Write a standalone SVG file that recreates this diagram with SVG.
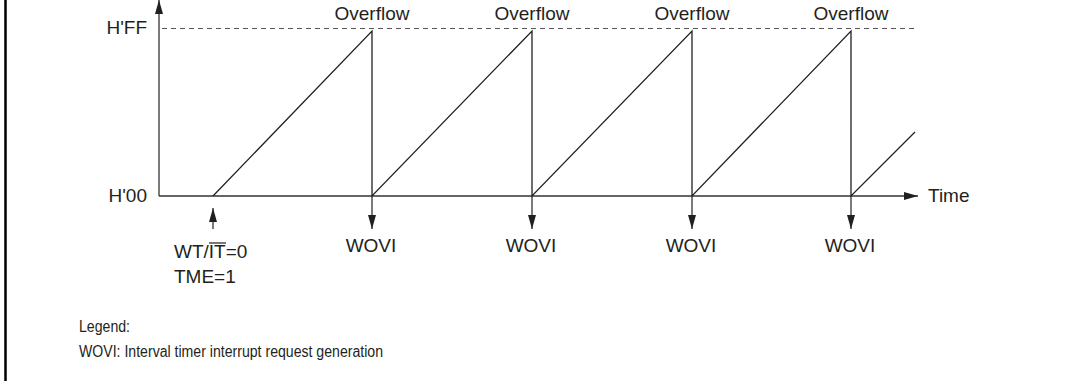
<svg xmlns="http://www.w3.org/2000/svg" width="1066" height="381" viewBox="0 0 1066 381">
<style>
text{font-family:"Liberation Sans",Arial,sans-serif;fill:#231f20}
.lbl{font-size:19px}
.leg{font-size:16px}
.axis{stroke:#333;stroke-width:1.3;fill:none}
.ramp{stroke:#231f20;stroke-width:1.3;fill:none}
.dash{stroke:#555;stroke-width:1;stroke-dasharray:5 4;fill:none}
</style>
<defs>
<marker id="ah" viewBox="0 0 14 8" refX="14" refY="4" markerWidth="14" markerHeight="8" markerUnits="userSpaceOnUse" orient="auto">
<path d="M0,0 L14,4 L0,8 Z" fill="#231f20"/>
</marker>
</defs>
<rect width="1066" height="381" fill="#fff"/>
<line x1="5.5" y1="0" x2="5.5" y2="381" stroke="#000" stroke-width="2.5"/>
<g id="connectors">
<line class="axis" x1="159" y1="196" x2="159" y2="0" marker-end="url(#ah)"/>
<line class="axis" x1="159" y1="196" x2="918" y2="196" marker-end="url(#ah)"/>
<line class="dash" x1="162" y1="28.5" x2="914" y2="28.5"/>
<polyline class="ramp" points="213,196 372,31 372,196 532,31 532,196 692,31 692,196 851,31 851,196 915,132"/>
<line class="axis" x1="213" y1="229" x2="213" y2="208" marker-end="url(#ah)"/>
<line class="axis" x1="372" y1="196" x2="372" y2="229" marker-end="url(#ah)"/>
<line class="axis" x1="532" y1="196" x2="532" y2="229" marker-end="url(#ah)"/>
<line class="axis" x1="692" y1="196" x2="692" y2="229" marker-end="url(#ah)"/>
<line class="axis" x1="851" y1="196" x2="851" y2="229" marker-end="url(#ah)"/>
</g>
<g id="yaxis-labels">
<text class="lbl" x="147" y="34" text-anchor="end">H'FF</text>
<text class="lbl" x="147" y="202" text-anchor="end">H'00</text>
</g>
<g id="time-label"><text class="lbl" x="928" y="202">Time</text></g>
<g id="overflow-labels">
<text class="lbl" x="372" y="20" text-anchor="middle">Overflow</text>
<text class="lbl" x="532" y="20" text-anchor="middle">Overflow</text>
<text class="lbl" x="692" y="20" text-anchor="middle">Overflow</text>
<text class="lbl" x="851" y="20" text-anchor="middle">Overflow</text>
</g>
<g id="wovi-labels">
<text class="lbl" x="371" y="252" text-anchor="middle">WOVI</text>
<text class="lbl" x="531" y="252" text-anchor="middle">WOVI</text>
<text class="lbl" x="691" y="252" text-anchor="middle">WOVI</text>
<text class="lbl" x="850" y="252" text-anchor="middle">WOVI</text>
</g>
<g id="start-label">
<text class="lbl" x="174" y="258">WT/IT=0</text>
<line x1="209" y1="243" x2="226" y2="243" stroke="#231f20" stroke-width="1.2"/>
<text class="lbl" x="174" y="283">TME=1</text>
</g>
<g id="legend">
<text class="leg" x="79" y="332" textLength="51" lengthAdjust="spacingAndGlyphs">Legend:</text>
<text class="leg" x="79" y="357" textLength="304" lengthAdjust="spacingAndGlyphs">WOVI: Interval timer interrupt request generation</text>
</g>
</svg>
